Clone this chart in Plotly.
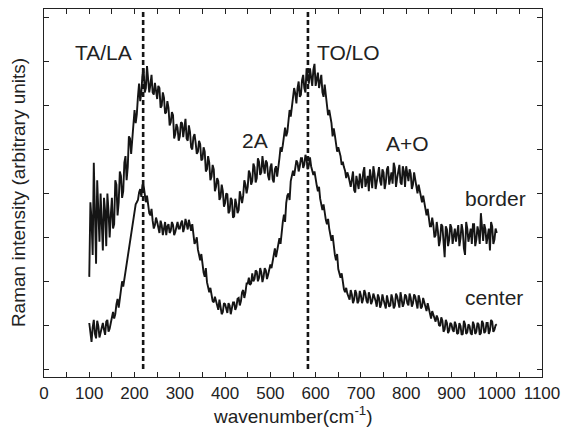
import plotly.graph_objects as go

# ---------------- data ----------------
# Readings on a 5 cm^-1 grid (100, 105, ... 1000) and on the half-steps
# between them (102.5, 107.5, ... 997.5).
GRID_STEP = 5
GRID_START = 100

BORDER = [
    2.10, 3.40, 4.70, 2.40, 3.50, 4.00, 2.70, 3.60, 4.00, 3.00,
    3.90, 3.30, 4.20, 3.80, 4.40, 4.05, 4.85, 4.60, 5.25, 5.20,
    5.90, 5.80, 6.50, 6.30, 6.85, 6.40, 6.60, 6.48, 6.30, 6.52,
    6.15, 6.40, 6.00, 6.18, 5.85, 5.95, 5.62, 5.78, 5.35, 5.50,
    5.30, 5.60, 5.45, 5.25, 5.55, 5.05, 5.28, 5.15, 4.95, 5.12,
    4.78, 4.95, 4.55, 4.70, 4.38, 4.55, 4.15, 4.28, 3.92, 4.05,
    3.78, 3.98, 3.60, 3.85, 3.48, 3.75, 3.62, 3.92, 3.95, 4.20,
    4.15, 4.45, 4.28, 4.60, 4.35, 4.72, 4.48, 4.62, 4.75, 4.40,
    4.60, 4.32, 4.55, 4.38, 4.80, 4.95, 5.28, 5.30, 5.65, 5.75,
    6.10, 6.28, 6.40, 6.20, 6.58, 6.40, 6.85, 6.50, 6.62, 6.82,
    6.45, 6.75, 6.55, 6.30, 6.48, 6.05, 5.90, 5.60, 5.48, 5.15,
    5.05, 4.85, 4.72, 4.52, 4.48, 4.25, 4.32, 4.08, 4.40, 4.10,
    4.32, 4.48, 4.15, 4.40, 4.55, 4.12, 4.45, 4.28, 4.60, 4.18,
    4.48, 4.25, 4.62, 4.40, 4.22, 4.58, 4.35, 4.65, 4.20, 4.50,
    4.62, 4.28, 4.45, 4.20, 4.30, 4.00, 4.05, 3.80, 3.78, 3.50,
    3.50, 3.25, 3.28, 3.05, 3.15, 2.95, 3.25, 2.55, 3.18, 2.95,
    3.22, 3.05, 2.90, 3.28, 2.98, 3.15, 2.60, 3.20, 3.05, 2.85,
    3.30, 2.95, 3.12, 3.55, 2.92, 3.18, 3.05, 2.70, 3.25, 2.95,
    3.10,
]
BORDER_HALF = [
    3.80, 2.60, 3.30, 4.30, 2.90, 3.10, 3.90, 2.80, 3.60, 3.50,
    3.20, 4.30, 3.50, 4.50, 3.90, 4.70, 4.30, 5.30, 4.90, 5.70,
    5.60, 6.20, 6.10, 6.70, 6.30, 6.90, 6.30, 6.70, 6.25, 6.30,
    6.45, 5.95, 6.30, 5.82, 6.10, 5.55, 5.85, 5.25, 5.58, 5.20,
    5.62, 5.28, 5.70, 5.20, 5.40, 5.00, 5.35, 4.90, 5.20, 4.75,
    5.05, 4.50, 4.85, 4.30, 4.65, 4.05, 4.35, 3.85, 4.20, 3.70,
    4.00, 3.55, 3.90, 3.45, 3.88, 3.55, 4.05, 3.78, 4.30, 4.00,
    4.52, 4.20, 4.68, 4.25, 4.80, 4.42, 4.85, 4.45, 4.70, 4.30,
    4.68, 4.25, 4.62, 4.68, 5.05, 5.10, 5.50, 5.40, 5.90, 5.95,
    6.40, 6.05, 6.55, 6.25, 6.70, 6.30, 6.60, 6.85, 6.45, 6.95,
    6.60, 6.40, 6.70, 6.20, 6.25, 5.78, 5.75, 5.30, 5.32, 4.95,
    4.95, 4.65, 4.60, 4.35, 4.40, 4.15, 4.50, 4.02, 4.25, 4.45,
    4.12, 4.60, 4.25, 4.05, 4.35, 4.62, 4.10, 4.50, 4.28, 4.55,
    4.10, 4.55, 4.20, 4.48, 4.70, 4.15, 4.52, 4.25, 4.62, 4.15,
    4.45, 4.55, 4.10, 4.48, 4.15, 4.20, 3.85, 3.95, 3.60, 3.65,
    3.25, 3.45, 3.00, 3.35, 2.80, 3.30, 2.95, 3.25, 2.80, 3.30,
    2.85, 3.20, 3.15, 2.80, 3.30, 2.75, 3.35, 2.90, 3.20, 3.30,
    2.80, 3.25, 2.85, 3.10, 3.30, 2.85, 3.20, 3.35, 2.85, 3.20,
]

CENTER = [
    1.05, 0.62, 1.12, 0.70, 0.98, 0.85, 1.05, 0.78, 1.12, 0.92,
    1.18, 1.15, 1.48, 1.40, 1.82, 1.88, 2.22, 2.48, 2.85, 3.22,
    3.52, 3.80, 4.02, 3.92, 4.18, 3.80, 3.68, 3.50, 3.38, 3.28,
    3.35, 3.10, 3.28, 3.18, 3.05, 3.30, 3.15, 3.28, 3.12, 3.35,
    3.20, 3.38, 3.22, 3.30, 3.40, 3.15, 3.05, 2.90, 2.72, 2.48,
    2.35, 2.10, 1.98, 1.75, 1.68, 1.52, 1.55, 1.35, 1.45, 1.30,
    1.48, 1.28, 1.45, 1.36, 1.52, 1.42, 1.62, 1.55, 1.80, 1.75,
    1.95, 1.92, 2.18, 2.05, 2.22, 2.08, 2.20, 2.10, 2.25, 2.15,
    2.38, 2.48, 2.75, 2.70, 2.98, 3.18, 3.52, 3.78, 4.00, 4.28,
    4.52, 4.55, 4.70, 4.62, 4.80, 4.66, 4.78, 4.65, 4.62, 4.42,
    4.30, 4.05, 3.88, 3.62, 3.52, 3.30, 3.20, 2.92, 2.72, 2.48,
    2.28, 2.08, 1.92, 1.75, 1.72, 1.58, 1.70, 1.58, 1.72, 1.55,
    1.68, 1.60, 1.72, 1.50, 1.66, 1.55, 1.65, 1.42, 1.62, 1.48,
    1.58, 1.38, 1.58, 1.45, 1.60, 1.44, 1.66, 1.40, 1.62, 1.50,
    1.66, 1.45, 1.62, 1.50, 1.65, 1.38, 1.58, 1.42, 1.50, 1.32,
    1.35, 1.15, 1.25, 1.08, 1.15, 0.98, 1.10, 0.90, 1.05, 0.88,
    1.02, 0.85, 1.00, 0.82, 0.98, 0.80, 1.02, 0.84, 0.98, 0.78,
    1.00, 0.85, 1.02, 0.82, 1.04, 0.86, 1.05, 0.88, 1.08, 0.90,
    1.02,
]
CENTER_HALF = [
    0.75, 0.95, 0.80, 1.10, 0.72, 1.00, 0.90, 1.08, 0.85, 1.05,
    1.30, 1.25, 1.60, 1.62, 2.00, 2.05, 2.40, 2.65, 3.05, 3.35,
    3.75, 3.85, 4.10, 4.20, 3.90, 3.95, 3.55, 3.65, 3.20, 3.45,
    3.22, 3.38, 3.05, 3.35, 3.25, 3.10, 3.35, 3.05, 3.25, 3.20,
    3.32, 3.12, 3.42, 3.18, 3.25, 3.30, 2.85, 3.00, 2.55, 2.62,
    2.20, 2.30, 1.85, 1.85, 1.55, 1.65, 1.42, 1.58, 1.25, 1.50,
    1.35, 1.50, 1.25, 1.52, 1.35, 1.60, 1.45, 1.75, 1.62, 1.95,
    2.08, 1.95, 2.00, 2.25, 2.00, 2.30, 1.98, 2.30, 2.05, 2.30,
    2.30, 2.60, 2.55, 2.88, 2.85, 3.35, 3.35, 3.95, 3.85, 4.45,
    4.40, 4.75, 4.50, 4.80, 4.58, 4.88, 4.55, 4.82, 4.50, 4.50,
    4.18, 4.15, 3.72, 3.75, 3.40, 3.42, 3.05, 3.05, 2.60, 2.62,
    2.15, 2.18, 1.82, 1.85, 1.62, 1.80, 1.50, 1.80, 1.50, 1.78,
    1.50, 1.80, 1.55, 1.75, 1.48, 1.72, 1.55, 1.70, 1.40, 1.70,
    1.50, 1.68, 1.42, 1.70, 1.38, 1.72, 1.48, 1.75, 1.42, 1.70,
    1.50, 1.72, 1.42, 1.70, 1.48, 1.68, 1.38, 1.62, 1.45, 1.50,
    1.25, 1.32, 1.15, 1.22, 1.00, 1.18, 0.85, 1.12, 0.82, 1.05,
    0.90, 1.08, 0.80, 1.05, 0.78, 1.10, 0.80, 1.02, 0.82, 1.08,
    0.80, 1.05, 0.78, 1.10, 0.82, 1.05, 0.80, 1.12, 0.85, 1.00,
]

PEAK_LINES = [219, 583]
X_TICKS = [0, 100, 200, 300, 400, 500, 600, 700, 800, 900, 1000, 1100]
Y_TICKS = [0, 1, 2, 3, 4, 5, 6, 7, 8]

LABELS = ["TA/LA", "TO/LO", "2A", "A+O", "border", "center"]
LABEL_X = [131, 673, 466, 802, 997, 995]
LABEL_Y = [7.20, 7.20, 5.20, 5.14, 3.89, 1.64]

FONT = "Liberation Sans, Arial, Helvetica, sans-serif"
INK = "#151515"


def merge(main, half):
    xs, ys = [], []
    for i, v in enumerate(main):
        xs.append(GRID_START + i * GRID_STEP)
        ys.append(v)
        if i < len(half):
            xs.append(GRID_START + i * GRID_STEP + GRID_STEP / 2)
            ys.append(half[i])
    return xs, ys


fig = go.Figure()
for main, half in ((BORDER, BORDER_HALF), (CENTER, CENTER_HALF)):
    xs, ys = merge(main, half)
    fig.add_trace(go.Scatter(
        x=xs, y=ys, mode="lines",
        line=dict(color=INK, width=1.9), showlegend=False,
        hoverinfo="skip",
    ))

Y_MIN, Y_MAX = -0.18, 8.2
for xv in PEAK_LINES:
    fig.add_shape(type="line", x0=xv, x1=xv, y0=0, y1=Y_MAX,
                  xref="x", yref="y",
                  line=dict(color=INK, width=2.6, dash="5px,3px"))

for txt, lx, ly in zip(LABELS, LABEL_X, LABEL_Y):
    fig.add_annotation(x=lx, y=ly, text=txt, showarrow=False,
                       xref="x", yref="y",
                       font=dict(family=FONT, size=21, color="#222"))

fig.add_annotation(x=-0.052, y=0.5, xref="paper", yref="paper",
                   text="Raman intensity (arbitrary units)", textangle=-90,
                   showarrow=False, xanchor="center", yanchor="middle",
                   font=dict(family=FONT, size=19, color="#222"))
fig.add_annotation(x=0.5, y=-0.104, xref="paper", yref="paper",
                   text="wavenumber(cm<sup>-1</sup>)",
                   showarrow=False, xanchor="center", yanchor="middle",
                   font=dict(family=FONT, size=19, color="#222"))

axis_common = dict(showgrid=False, zeroline=False, showline=True,
                   linecolor="#222", linewidth=1.3, mirror="ticks",
                   ticks="inside", ticklen=5, tickwidth=1.2,
                   tickcolor="#222")

fig.update_xaxes(range=[0, 1100], tickvals=X_TICKS,
                 tickfont=dict(family=FONT, size=17, color="#222"),
                 minor=dict(ticks="inside", ticklen=5, tickwidth=1.2,
                            tickcolor="#222", dtick=50, tick0=0),
                 **axis_common)
fig.update_yaxes(range=[Y_MIN, Y_MAX], tickvals=Y_TICKS,
                 showticklabels=False, **axis_common)

fig.update_layout(
    width=568, height=434,
    margin=dict(l=44, r=21, t=8, b=57),
    paper_bgcolor="white", plot_bgcolor="white",
    font=dict(family=FONT, color="#222"),
)

fig.write_html("out.html")
